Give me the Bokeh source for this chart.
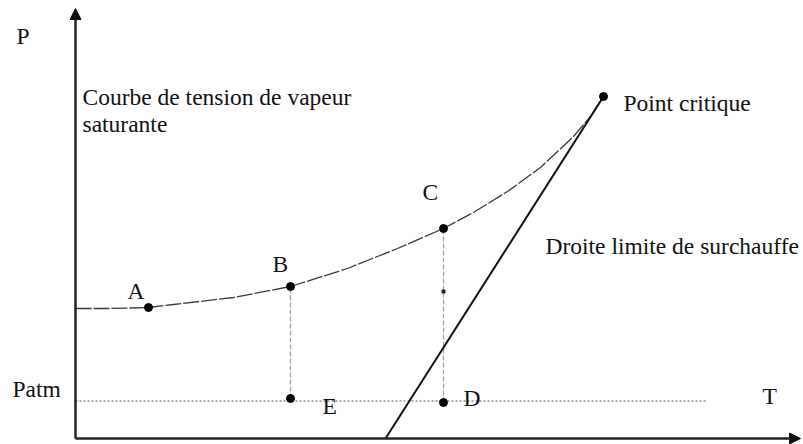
from bokeh.plotting import figure
from bokeh.models import Range1d, Arrow, NormalHead, Label
from bokeh.embed import file_html
from bokeh.resources import INLINE

# ---- data (schematic units: T horizontal, P vertical) ----
curve_T = [0.0, 3.5, 7.3, 9.8, 15.8, 21.5, 27.2, 32.2, 36.8, 39.8, 43.2, 46.5, 49.8, 51.5, 52.8]
curve_P = [13.0, 13.0, 13.1, 13.4, 14.1, 15.2, 17.0, 19.0, 21.0, 22.6, 24.7, 27.1, 30.2, 32.2, 34.2]

point_T = [7.3, 21.5, 36.8, 52.8]          # A, B, C, point critique
point_P = [13.1, 15.2, 21.0, 34.2]

lower_T = [21.5, 36.8]                      # E, D
lower_P = [4.0, 3.6]

P_atm = 3.75
patm_T = [0.0, 63.0]

superheat_T = [31.0, 52.8]
superheat_P = [0.0, 34.2]

mark_T = [36.8]
mark_P = [14.7]

axis_T_max = 72.5
axis_P_max = 43.0

label_texts = ["P", "Courbe de tension de vapeur", "saturante", "Point critique",
               "A", "B", "C", "Droite limite de surchauffe", "Patm", "E", "D", "T"]
label_T = [-5.9, 0.7, 0.7, 54.8, 5.2, 19.7, 34.7, 47.0, -6.3, 24.7, 38.8, 68.7]
label_P = [40.3, 34.2, 31.5, 33.6, 14.8, 17.5, 24.7, 19.3, 5.0, 3.3, 4.1, 4.3]

# ---- figure ----
p = figure(width=803, height=444, output_backend="svg", toolbar_location=None,
           x_range=Range1d(-7.5, 72.8), y_range=Range1d(-0.6, 43.8),
           x_axis_type=None, y_axis_type=None, min_border=0)
p.outline_line_color = None
p.grid.visible = False
p.background_fill_color = "white"

# saturation curve
p.line(curve_T, curve_P, line_color="#3a3a3a", line_width=1.3, line_dash="16 2")

# vertical dashed lines B-E and C-D
for i in range(2):
    p.line([lower_T[i], point_T[i + 1]], [lower_P[i], point_P[i + 1]],
           line_color="#a0a0a0", line_width=1.2, line_dash="5 2")

# Patm dotted line
p.line(patm_T, [P_atm, P_atm], line_color="#8a8a8a", line_width=1.5, line_dash="2 2")

# superheat limit straight line
p.line(superheat_T, superheat_P, line_color="#111111", line_width=2)

# small mark
p.scatter(mark_T, mark_P, marker="square", size=3, color="#222222")

# points
p.scatter(point_T, point_P, size=8, color="black")
p.scatter(lower_T, lower_P, size=8, color="black")

# axes with arrows
p.add_layout(Arrow(end=NormalHead(size=11, fill_color="#111111", line_color="#111111"),
                   x_start=0, y_start=0, x_end=0, y_end=axis_P_max,
                   line_color="#222222", line_width=2.5))
p.add_layout(Arrow(end=NormalHead(size=11, fill_color="#111111", line_color="#111111"),
                   x_start=0, y_start=0, x_end=axis_T_max, y_end=0,
                   line_color="#222222", line_width=2.5))

# labels
for t, x, y in zip(label_texts, label_T, label_P):
    p.add_layout(Label(x=x, y=y, text=t, text_font="Liberation Serif",
                       text_font_size="23.5px", text_color="#111111",
                       text_baseline="alphabetic", text_align="left"))

open("out.html", "w").write(file_html(p, INLINE))
